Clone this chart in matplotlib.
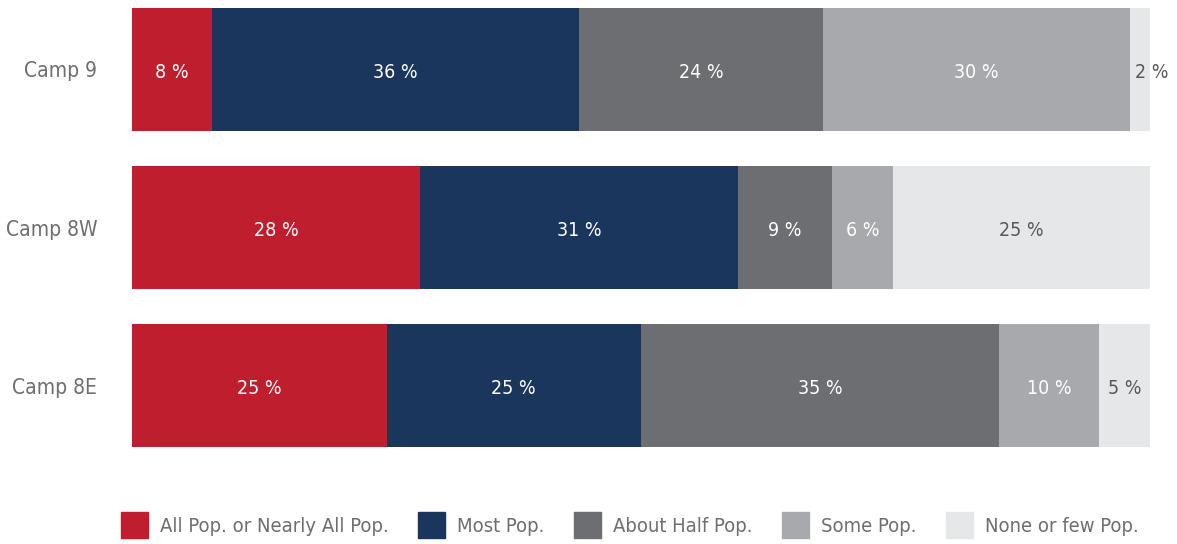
import matplotlib
matplotlib.use("Agg")
import matplotlib.pyplot as plt
from matplotlib import font_manager
from matplotlib.patches import Patch

# pick a narrow font if there is one
names = {f.name for f in font_manager.fontManager.ttflist}
if "Liberation Sans Narrow" in names:
    plt.rcParams["font.family"] = "Liberation Sans Narrow"
else:
    plt.rcParams["font.family"] = "DejaVu Sans"
    plt.rcParams["font.stretch"] = "condensed"

camps = ["Camp 9", "Camp 8W", "Camp 8E"]
series = ["All Pop. or Nearly All Pop.", "Most Pop.", "About Half Pop.",
          "Some Pop.", "None or few Pop."]
all_pop = [7.9, 28.3, 25.0]
most_pop = [36.0, 31.2, 25.0]
half_pop = [24.0, 9.3, 35.2]
some_pop = [30.1, 6.0, 9.8]
few_pop = [2.0, 25.2, 5.0]
colors = ["#BE1E2D", "#1B365D", "#6D6E71", "#A7A9AC", "#E6E7E8"]
text_colors = ["white", "white", "white", "white", "#58595B"]

fig = plt.figure(figsize=(11.77, 5.44), dpi=100)
ax = fig.add_axes([132 / 1177, 1 - 447 / 544, (1150 - 132) / 1177, (447 - 8) / 544])

h = 0.776
left = [0, 0, 0]
for vals, c, tc in zip([all_pop, most_pop, half_pop, some_pop, few_pop], colors, text_colors):
    bars = ax.barh(range(3), vals, left=left, height=h, color=c)
    for i, (b, v) in enumerate(zip(bars, vals)):
        if v < 3:
            # too thin, label starts inside the bar and runs past its end
            ax.text(left[i] + 0.55, i + 0.02, "%d %%" % round(v), ha="left", va="center",
                    color="#58595B", fontsize=14)
        else:
            ax.text(left[i] + v / 2, i + 0.02, "%d %%" % round(v), ha="center", va="center",
                    color=tc, fontsize=14)
    left = [l + v for l, v in zip(left, vals)]

ax.set_xlim(0, 100)
ax.set_ylim(2 + h / 2, -h / 2)
ax.set_yticks(range(3))
ax.set_yticklabels(camps, fontsize=15, color="#6D6E71")
ax.tick_params(axis="y", length=0, pad=25)
ax.set_xticks([])
for s in ax.spines.values():
    s.set_visible(False)

handles = [Patch(color=c, label=s) for c, s in zip(colors, series)]
fig.legend(handles=handles, loc="lower center", bbox_to_anchor=(630 / 1177, -0.022), ncol=5,
           frameon=False, fontsize=14.5, labelcolor="#6D6E71", handlelength=1.35,
           handleheight=1.58, handletextpad=0.6, columnspacing=1.45)

fig.savefig("out.png", dpi=100)
